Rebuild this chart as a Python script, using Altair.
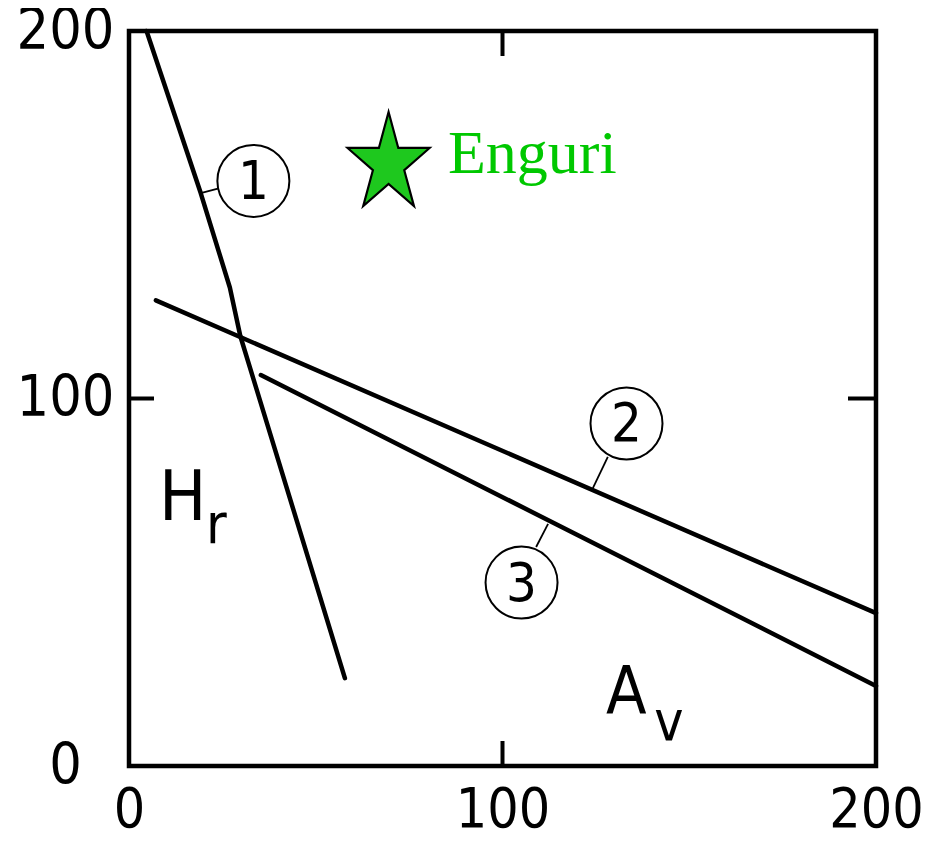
import altair as alt
import pandas as pd
import math

# ---- data ----
line1_x = [4.7, 19.2, 27.0, 29.8, 57.8]
line1_y = [200.0, 155.9, 130.2, 117.0, 23.9]
line2_x = [7.2, 200.0]
line2_y = [126.7, 41.6]
line3_x = [35.3, 200.0]
line3_y = [106.4, 21.8]

label_ids = ["1", "2", "3"]
label_x = [33.3, 133.2, 105.1]
label_y = [159.2, 93.2, 49.9]
leader_x1 = [19.2, 124.2, 112.2]
leader_y1 = [155.9, 75.6, 65.9]
leader_x2 = [23.8, 128.2, 109.0]
leader_y2 = [157.1, 84.1, 59.6]

star_x = [69.5]
star_y = [163.8]
star_name = ["Enguri"]
star_text_x = [85.4]
star_text_y = [161.4]

axis_ticks = [0, 100, 200]
inner_ticks = [100]

NARROW = "Liberation Sans Narrow, DejaVu Sans Condensed, Liberation Sans, Arial"
W, H = 747, 735

rows = []
for cid, xs_, ys_ in (("1", line1_x, line1_y), ("2", line2_x, line2_y), ("3", line3_x, line3_y)):
    for i, (a, b) in enumerate(zip(xs_, ys_)):
        rows.append({"curve": cid, "i": i, "x": a, "y": b})
lines_df = pd.DataFrame(rows)

labels_df = pd.DataFrame({"id": label_ids, "x": label_x, "y": label_y,
                          "x1": leader_x1, "y1": leader_y1, "x2": leader_x2, "y2": leader_y2})
star_df = pd.DataFrame({"x": star_x, "y": star_y, "name": star_name,
                        "tx": star_text_x, "ty": star_text_y})
ticks_df = pd.DataFrame({"v": inner_ticks})

xs = alt.Scale(domain=[0, 200], nice=False, zero=False)
ys = alt.Scale(domain=[0, 200], nice=False, zero=False)

xax = alt.Axis(values=axis_ticks, title=None, domain=False, ticks=False, tickSize=0, grid=False,
               labelFont=NARROW, labelFontSize=55, labelColor="black", labelPadding=17,
               labelBaseline="top", labelFlush=False)
yax = alt.Axis(values=axis_ticks, title=None, domain=False, ticks=False, tickSize=0, grid=False,
               labelFont=NARROW, labelFontSize=57, labelColor="black", labelPadding=64,
               labelAlign="center", labelBaseline="middle", labelFlush=False)

base_x = alt.X("x:Q", scale=xs, axis=xax)
base_y = alt.Y("y:Q", scale=ys, axis=yax)

curves = alt.Chart(lines_df).mark_line(color="black", strokeWidth=4.5, strokeCap="round",
                                       strokeJoin="round").encode(
    x=base_x, y=base_y, detail="curve:N", order="i:Q")

leaders = alt.Chart(labels_df).mark_rule(color="black", strokeWidth=1.8).encode(
    x=alt.X("x1:Q", scale=xs), y=alt.Y("y1:Q", scale=ys), x2="x2:Q", y2="y2:Q")

circles = alt.Chart(labels_df).mark_point(shape="circle", size=72 * 72, filled=False,
                                          color="black", strokeWidth=2, opacity=1).encode(
    x=alt.X("x:Q", scale=xs), y=alt.Y("y:Q", scale=ys))

nums = alt.Chart(labels_df).mark_text(font=NARROW, fontSize=54, color="black",
                                      align="center", baseline="middle", dy=2).encode(
    x=alt.X("x:Q", scale=xs), y=alt.Y("y:Q", scale=ys), text="id:N")

# five-pointed star (slightly narrow), unit box -1..1
pts = []
for k in range(10):
    ang = math.radians(-90 + 36 * k)
    r = 1.0 if k % 2 == 0 else 0.382
    pts.append((0.83 * r * math.cos(ang), r * math.sin(ang)))
star_path = "M" + " L".join(f"{px:.4f},{py:.4f}" for px, py in pts) + " Z"

star = alt.Chart(star_df).mark_point(shape=star_path, size=104 * 104, filled=True,
                                     fill="#1ec81e", stroke="black", strokeWidth=2.2,
                                     opacity=1).encode(
    x=alt.X("x:Q", scale=xs), y=alt.Y("y:Q", scale=ys))

star_text = alt.Chart(star_df).mark_text(font="Liberation Serif, Times New Roman, serif",
                                         fontSize=62, color="#00c800", align="left",
                                         baseline="alphabetic").encode(
    x=alt.X("tx:Q", scale=xs), y=alt.Y("ty:Q", scale=ys), text="name:N")

# axis-name labels H_r and A_v (main letter + subscript)
lab_df = pd.DataFrame({
    "t": ["H", "r", "A", "v"],
    "x": [8.0, 20.6, 127.7, 140.6],
    "y": [66.9, 60.8, 14.4, 7.1],
    "fs": [70, 56, 66, 55],
})
ax_labels = alt.Chart(lab_df).mark_text(font=NARROW, color="black", align="left",
                                        baseline="alphabetic").encode(
    x=alt.X("x:Q", scale=xs), y=alt.Y("y:Q", scale=ys), text="t:N",
    size=alt.Size("fs:Q", scale=None, legend=None))

TICK = 25
tick_bottom = alt.Chart(ticks_df).mark_rule(color="black", strokeWidth=4).encode(
    x=alt.X("v:Q", scale=xs), y=alt.value(H), y2=alt.value(H - TICK))
tick_top = alt.Chart(ticks_df).mark_rule(color="black", strokeWidth=4).encode(
    x=alt.X("v:Q", scale=xs), y=alt.value(0), y2=alt.value(TICK))
tick_left = alt.Chart(ticks_df).mark_rule(color="black", strokeWidth=4).encode(
    y=alt.Y("v:Q", scale=ys), x=alt.value(0), x2=alt.value(TICK))
tick_right = alt.Chart(ticks_df).mark_rule(color="black", strokeWidth=4).encode(
    y=alt.Y("v:Q", scale=ys), x=alt.value(W), x2=alt.value(W - TICK - 3))

chart = alt.layer(curves, leaders, circles, nums, star, star_text, ax_labels,
                  tick_bottom, tick_top, tick_left, tick_right).properties(
    width=W, height=H,
    autosize=alt.AutoSizeParams(type="none"),
    padding={"left": 121, "top": 23, "right": 45, "bottom": 78},
    background="white",
).configure_view(stroke="black", strokeWidth=4.5)

chart.save("out.html", embed_options={"renderer": "svg", "actions": False})
